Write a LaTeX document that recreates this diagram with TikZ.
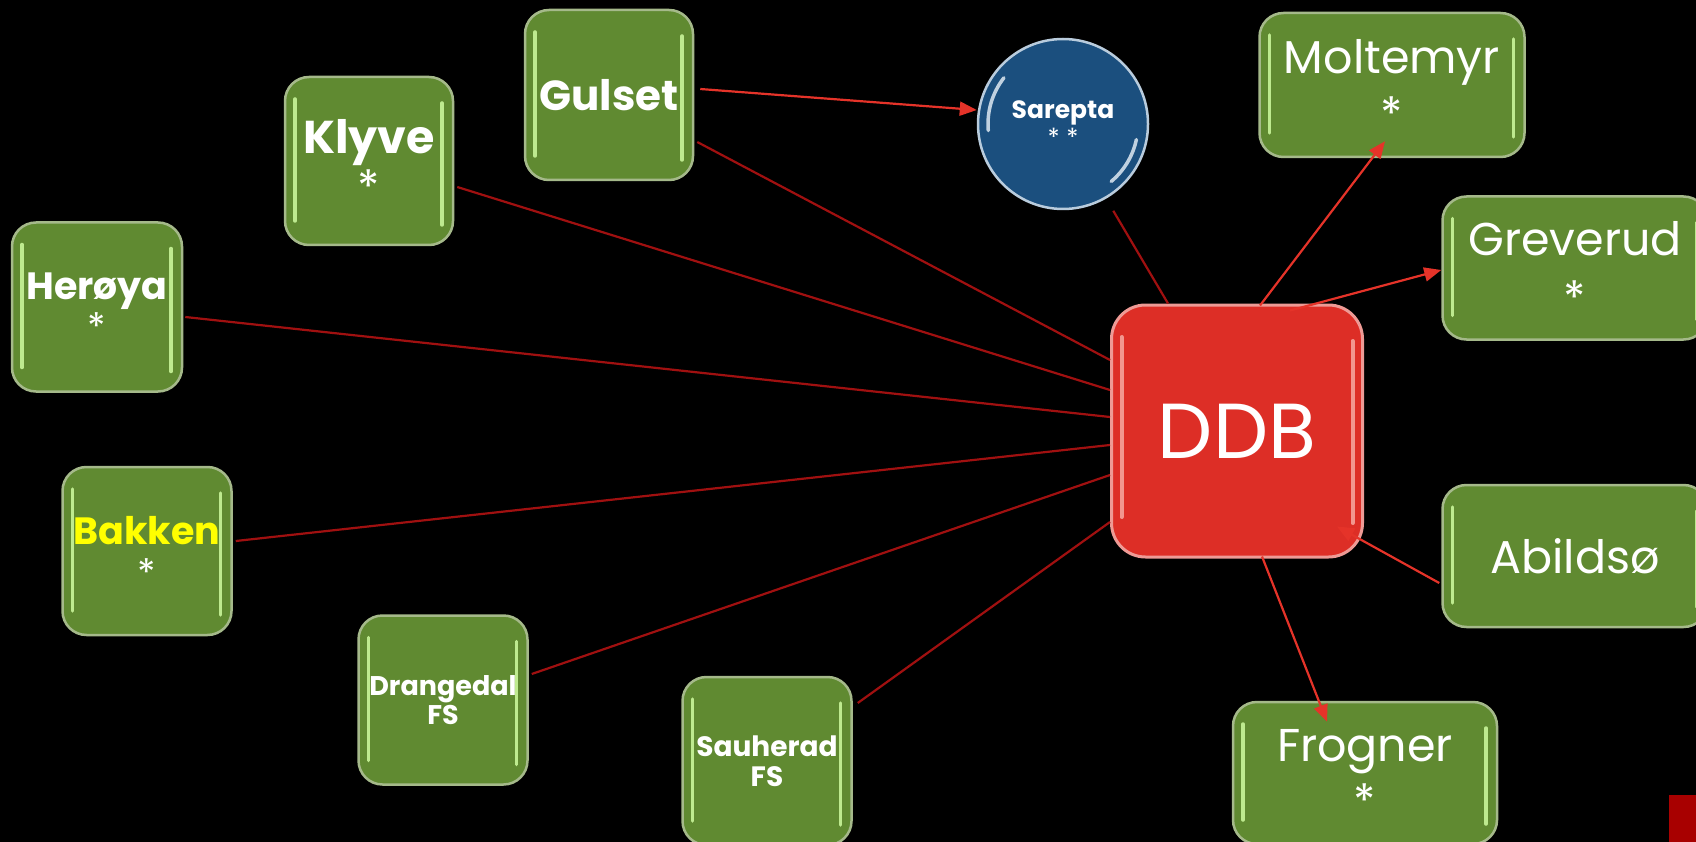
\documentclass[tikz,border=0pt]{standalone}
\usepackage{fontspec}
\setmainfont{Poppins}
\usetikzlibrary{arrows.meta}
\definecolor{gfill}{HTML}{608A31}
\definecolor{gborder}{HTML}{A5B98A}
\definecolor{ghl}{HTML}{C9F59A}
\definecolor{dfill}{HTML}{DD2E26}
\definecolor{dborder}{HTML}{EE9A95}
\definecolor{dhl}{HTML}{F8B0A8}
\definecolor{sfill}{HTML}{1B4F7E}
\definecolor{sborder}{HTML}{B9CCDD}
\definecolor{shl}{HTML}{DDE8F2}
\definecolor{linkc}{HTML}{A01010}
\definecolor{arrc}{HTML}{E53329}
\definecolor{cornerc}{HTML}{A80000}
\definecolor{bakkeny}{HTML}{FFFF00}
\tikzset{
  gbox/.style={rectangle, rounded corners=24pt, fill=gfill, draw=gborder, line width=2.5pt,
    inner sep=0pt, text=white, align=center,
    path picture={
      \draw[ghl, line width=3.5pt, line cap=round, opacity=0.9]
        ([xshift=10pt,yshift=-22pt]path picture bounding box.north west) --
        ([xshift=10pt,yshift=24pt]path picture bounding box.south west);
      \draw[ghl, line width=3.5pt, line cap=round, opacity=0.9]
        ([xshift=-11pt,yshift=-26pt]path picture bounding box.north east) --
        ([xshift=-11pt,yshift=20pt]path picture bounding box.south east);
    }},
  dbox/.style={rectangle, rounded corners=34pt, fill=dfill, draw=dborder, line width=3pt,
    inner sep=0pt, text=white, align=center,
    path picture={
      \draw[dhl, line width=4pt, line cap=round, opacity=0.8]
        ([xshift=10pt,yshift=-32pt]path picture bounding box.north west) --
        ([xshift=10pt,yshift=40pt]path picture bounding box.south west);
      \draw[dhl, line width=4pt, line cap=round, opacity=0.8]
        ([xshift=-10pt,yshift=-36pt]path picture bounding box.north east) --
        ([xshift=-10pt,yshift=34pt]path picture bounding box.south east);
    }},
  sbox/.style={circle, minimum size=170pt, fill=sfill, draw=sborder, line width=2.5pt,
    inner sep=0pt, text=white, align=center,
    path picture={
      \draw[shl, line width=3.5pt, line cap=round, opacity=0.85]
        ([shift={(175:75)}]path picture bounding box.center) arc (175:218:75);
      \draw[shl, line width=3.5pt, line cap=round, opacity=0.85]
        ([shift={(12:75)}]path picture bounding box.center) arc (12:50:75);
    }},
  linkl/.style={draw=linkc, line width=2.2pt},
  arrl/.style={draw=arrc, line width=2.2pt, -{Triangle[length=17pt,width=14pt]}},
}
\begin{document}
\begin{tikzpicture}[x=1pt,y=-1pt]
\fill[black] (0,0) rectangle (1696,842);
\useasboundingbox (0,0) rectangle (1696,842);

% green nodes (left)
\node[gbox, minimum width=168pt, minimum height=170pt, font=\fontsize{42}{46}\selectfont\bfseries] (gul) at (609,95)
  {Gulset};
\node[gbox, minimum width=168pt, minimum height=168pt, font=\fontsize{46}{50}\selectfont] (kly) at (369,161)
  {\bfseries Klyve\\*};
\node[gbox, minimum width=170pt, minimum height=169pt, font=\fontsize{38}{41}\selectfont] (her) at (97,307)
  {\bfseries Herøya\\*};
\node[gbox, minimum width=169pt, minimum height=168pt, font=\fontsize{38}{42}\selectfont] (bak) at (147,551)
  {\bfseries\color{bakkeny}Bakken\\*};
\node[gbox, minimum width=169pt, minimum height=169pt, font=\fontsize{27}{29}\selectfont\bfseries] (dra) at (443,700)
  {Drangedal\\FS};
\node[gbox, minimum width=169pt, minimum height=168pt, font=\fontsize{28}{30}\selectfont\bfseries] (sau) at (767,761)
  {Sauherad\\FS};

% Sarepta
\node[sbox, font=\fontsize{25}{28}\selectfont] (sar) at (1063,124)
  {\bfseries Sarepta\\* *};

% DDB
\node[dbox, minimum width=251pt, minimum height=252pt, font=\fontsize{78}{80}\selectfont] (ddb) at (1237,431)
  {DDB};

% green nodes (right)
\node[gbox, minimum width=265pt, minimum height=144pt, font=\fontsize{46}{57}\selectfont] (mol) at (1392,85)
  {Moltemyr\\*};
\node[gbox, minimum width=265pt, minimum height=143pt, font=\fontsize{46}{59}\selectfont] (grev) at (1575,268)
  {Greverud\\*};
\node[gbox, minimum width=265pt, minimum height=142pt, font=\fontsize{46}{50}\selectfont] (abi) at (1575,556)
  {Abildsø};
\node[gbox, minimum width=264pt, minimum height=142pt, font=\fontsize{46}{56}\selectfont] (frog) at (1365,773)
  {Frogner\\*};

% corner mark
\fill[cornerc] (1669,795) rectangle (1696,842);

% dark links to DDB
\draw[linkl] ([xshift=3pt,yshift=-47pt]gul.east) -- ([yshift=71pt]ddb.west);
\draw[linkl] ([xshift=3pt,yshift=-26pt]kly.east) -- ([yshift=41pt]ddb.west);
\draw[linkl] ([xshift=2pt,yshift=-10pt]her.east) -- ([yshift=14pt]ddb.west);
\draw[linkl] ([xshift=3pt,yshift=10pt]bak.east) -- ([yshift=-14pt]ddb.west);
\draw[linkl] ([xshift=3pt,yshift=26pt]dra.east) -- ([yshift=-44pt]ddb.west);
\draw[linkl] ([xshift=5pt,yshift=58pt]sau.east) -- ([yshift=-91pt]ddb.west);
\draw[linkl, shorten <=14pt] (sar.300) -- ([xshift=-69pt]ddb.north);

% red arrows
\draw[arrl] ([xshift=6pt,yshift=6pt]gul.east) -- ([yshift=14pt]sar.west);
\draw[arrl] ([xshift=23pt,yshift=-2pt]ddb.north) -- ([xshift=-7pt,yshift=17pt]mol.south);
\draw[arrl] ([xshift=53pt,yshift=-7pt]ddb.north) -- ([yshift=-2pt]grev.west);
\draw[arrl] ([xshift=-2pt,yshift=-27pt]abi.west) -- ([xshift=-27pt,yshift=32pt]ddb.south east);
\draw[arrl] ([xshift=25pt,yshift=2pt]ddb.south) -- ([xshift=-38pt,yshift=-21pt]frog.north);
\end{tikzpicture}
\end{document}
